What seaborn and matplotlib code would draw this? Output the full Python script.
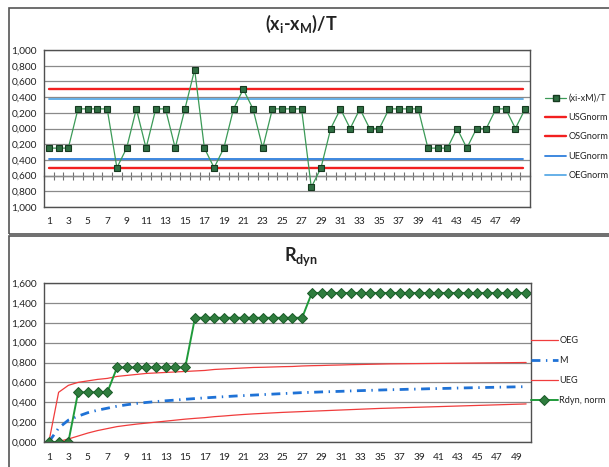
import numpy as np
import pandas as pd
import matplotlib
matplotlib.use("Agg")
import matplotlib.pyplot as plt
from matplotlib.lines import Line2D
from matplotlib.ticker import FuncFormatter, FixedLocator
import seaborn as sns

# ---- data ----
cats = list(range(1, 51))

dev_norm = [-0.25, -0.25, -0.25, 0.25, 0.25, 0.25, 0.25, -0.5, -0.25, 0.25,
            -0.25, 0.25, 0.25, -0.25, 0.25, 0.75, -0.25, -0.5, -0.25, 0.25,
            0.5, 0.25, -0.25, 0.25, 0.25, 0.25, 0.25, -0.75, -0.5, 0.0,
            0.25, 0.0, 0.25, 0.0, 0.0, 0.25, 0.25, 0.25, 0.25, -0.25,
            -0.25, -0.25, 0.0, -0.25, 0.0, 0.0, 0.25, 0.25, 0.0, 0.25]
usg_norm = -0.5
osg_norm = 0.5
ueg_norm = -0.385
oeg_norm = 0.375

rdyn_norm = [0.0, 0.0, 0.0, 0.5, 0.5, 0.5, 0.5, 0.75, 0.75, 0.75,
             0.75, 0.75, 0.75, 0.75, 0.75, 1.25, 1.25, 1.25, 1.25, 1.25,
             1.25, 1.25, 1.25, 1.25, 1.25, 1.25, 1.25, 1.5, 1.5, 1.5,
             1.5, 1.5, 1.5, 1.5, 1.5, 1.5, 1.5, 1.5, 1.5, 1.5,
             1.5, 1.5, 1.5, 1.5, 1.5, 1.5, 1.5, 1.5, 1.5, 1.5]
oeg = [0.0, 0.50, 0.57, 0.60, 0.615, 0.63, 0.64, 0.66, 0.67, 0.68,
       0.69, 0.695, 0.70, 0.705, 0.71, 0.715, 0.72, 0.73, 0.735, 0.74,
       0.745, 0.75, 0.752, 0.755, 0.758, 0.76, 0.765, 0.768, 0.77, 0.773,
       0.775, 0.778, 0.78, 0.782, 0.784, 0.786, 0.787, 0.788, 0.789, 0.79,
       0.791, 0.792, 0.793, 0.794, 0.795, 0.796, 0.797, 0.798, 0.799, 0.80]
m_line = [0.0, 0.14, 0.22, 0.26, 0.295, 0.32, 0.34, 0.36, 0.375, 0.388,
          0.398, 0.407, 0.415, 0.422, 0.43, 0.437, 0.444, 0.45, 0.456, 0.462,
          0.467, 0.472, 0.477, 0.482, 0.487, 0.492, 0.497, 0.50, 0.504, 0.507,
          0.51, 0.514, 0.517, 0.52, 0.523, 0.526, 0.528, 0.531, 0.533, 0.536,
          0.538, 0.54, 0.543, 0.545, 0.547, 0.549, 0.551, 0.553, 0.555, 0.557]
ueg = [0.0, 0.005, 0.03, 0.06, 0.09, 0.115, 0.135, 0.155, 0.168, 0.18,
       0.19, 0.20, 0.21, 0.22, 0.23, 0.238, 0.245, 0.255, 0.262, 0.27,
       0.277, 0.283, 0.288, 0.293, 0.298, 0.302, 0.306, 0.31, 0.314, 0.318,
       0.322, 0.326, 0.33, 0.334, 0.338, 0.341, 0.344, 0.347, 0.35, 0.353,
       0.356, 0.359, 0.362, 0.365, 0.368, 0.371, 0.374, 0.377, 0.38, 0.383]

top_df = pd.DataFrame({"i": cats, "dev": dev_norm})
bot_df = pd.DataFrame({"i": cats, "rdyn": rdyn_norm, "oeg": oeg, "m": m_line, "ueg": ueg})

# ---- style ----
sns.set_style("white")
plt.rcParams["font.family"] = ["Lato", "DejaVu Sans"]
plt.rcParams["mathtext.fontset"] = "custom"

GRID = "#8a8a8a"
FRAME = "#505050"
TXT = "#222222"

fig = plt.figure(figsize=(6.09, 4.67), dpi=100)
W, H = 609.0, 467.0


def px_axes(l, t, r, b):
    return fig.add_axes([l / W, 1 - b / H, (r - l) / W, (b - t) / H])


def comma_fmt(v, pos):
    return f"{abs(v):.3f}".replace(".", ",")


def style_axes(ax, ymin, ymax, step):
    ax.set_xlim(0.5, 50.5)
    ax.set_ylim(ymin, ymax)
    ax.yaxis.set_major_locator(FixedLocator(np.round(np.arange(ymin, ymax + step / 2, step), 3)))
    ax.yaxis.set_major_formatter(FuncFormatter(comma_fmt))
    ax.grid(axis="y", color=GRID, lw=0.9)
    ax.set_axisbelow(True)
    ax.set_xticks(cats[::2])
    ax.set_xticklabels([str(c) for c in cats[::2]])
    ax.set_xlabel("")
    ax.set_ylabel("")
    for s in ax.spines.values():
        s.set_color(FRAME)
        s.set_linewidth(1.0)
    ax.tick_params(axis="y", labelsize=7.3, colors=TXT, length=3, color=FRAME, pad=2)


# ---- top chart ----
ax1 = px_axes(44, 50, 530, 207)
sns.lineplot(data=top_df, x="i", y="dev", ax=ax1, color="#3b9a57", lw=0.9,
             marker="s", markersize=4.5, markerfacecolor="#2f6e42",
             markeredgecolor="#163a20", markeredgewidth=0.8, label="(xi-xM)/T",
             zorder=4)
ax1.axhline(usg_norm, color="#f21f1f", lw=1.7, xmin=0.01, xmax=0.985, zorder=2)
ax1.axhline(osg_norm, color="#f21f1f", lw=1.7, xmin=0.01, xmax=0.985, zorder=2)
ax1.axhline(ueg_norm, color="#2f7fdc", lw=1.3, xmin=0.01, xmax=0.985, zorder=2)
ax1.axhline(oeg_norm, color="#5aaae6", lw=1.3, xmin=0.01, xmax=0.985, zorder=2)
style_axes(ax1, -1.0, 1.0, 0.2)
ax1.tick_params(axis="x", labelsize=7.3, colors=TXT, length=0, pad=7)

# category axis crossing at -0.6
sec = ax1.secondary_xaxis(0.2)
sec.set_xticks(np.arange(0.5, 51, 1.0))
sec.tick_params(direction="inout", length=6, color="#707070", labelbottom=False)
sec.spines["bottom"].set_color("#707070")
sec.spines["bottom"].set_linewidth(1.0)

top_handles = [
    Line2D([], [], color="#3b9a57", lw=0.9, marker="s", markersize=4.5,
           markerfacecolor="#2f6e42", markeredgecolor="#163a20"),
    Line2D([], [], color="#f21f1f", lw=1.7),
    Line2D([], [], color="#f21f1f", lw=1.7),
    Line2D([], [], color="#2f7fdc", lw=1.3),
    Line2D([], [], color="#5aaae6", lw=1.3),
]
ax1.legend(top_handles, ["(xi-xM)/T", "USGnorm", "OSGnorm", "UEGnorm", "OEGnorm"],
           loc="center left", bbox_to_anchor=(1 + 15 / 486, 0.446), frameon=False,
           borderpad=0, borderaxespad=0,
           fontsize=6.6, handlelength=2.3, handletextpad=0.25, labelspacing=1.12,
           labelcolor=TXT)
fig.text(301 / W, 1 - 24 / H, r"(x$_\mathregular{i}$-x$_\mathregular{M}$)/T",
         ha="center", va="center", fontsize=13, fontweight="bold", color=TXT)

# ---- bottom chart ----
ax2 = px_axes(44, 283, 531, 442)
sns.lineplot(data=bot_df, x="i", y="oeg", ax=ax2, color="#f03c3c", lw=0.9, label="OEG")
sns.lineplot(data=bot_df, x="i", y="m", ax=ax2, color="#1f72d6", lw=2.0,
             linestyle=(0, (3.2, 2.0, 0.5, 2.0)), label="M")
sns.lineplot(data=bot_df, x="i", y="ueg", ax=ax2, color="#f03c3c", lw=0.9, label="UEG")
sns.lineplot(data=bot_df, x="i", y="rdyn", ax=ax2, color="#1f9a3a", lw=1.4,
             marker="D", markersize=4.8, markerfacecolor="#2f7d3e",
             markeredgecolor="#1a5a28", markeredgewidth=0.7, label="Rdyn, norm")
style_axes(ax2, 0.0, 1.6, 0.2)
ax2.xaxis.set_minor_locator(FixedLocator(np.arange(0.5, 51, 1.0)))
ax2.tick_params(axis="x", which="major", labelsize=7.3, colors=TXT, length=0, pad=8)
ax2.tick_params(axis="x", which="minor", length=4, color=FRAME, direction="out")
ax2.legend(loc="center left", bbox_to_anchor=(1.0, 0.45), frameon=False,
           borderpad=0, borderaxespad=0,
           fontsize=6.6, handlelength=2.9, handletextpad=0.2, labelspacing=1.2,
           labelcolor=TXT)
fig.text(301 / W, 1 - 257 / H, r"R$_\mathregular{dyn}$",
         ha="center", va="center", fontsize=13, fontweight="bold", color=TXT)

# ---- outer frames ----
for y0, y1 in [(8, 234), (236, 470)]:
    fig.patches.append(plt.Rectangle((8.5 / W, 1 - y1 / H), 620 / W, (y1 - y0) / H,
                                     transform=fig.transFigure, fill=False,
                                     edgecolor="#555555", lw=1.2))

fig.savefig("out.png", dpi=100)
